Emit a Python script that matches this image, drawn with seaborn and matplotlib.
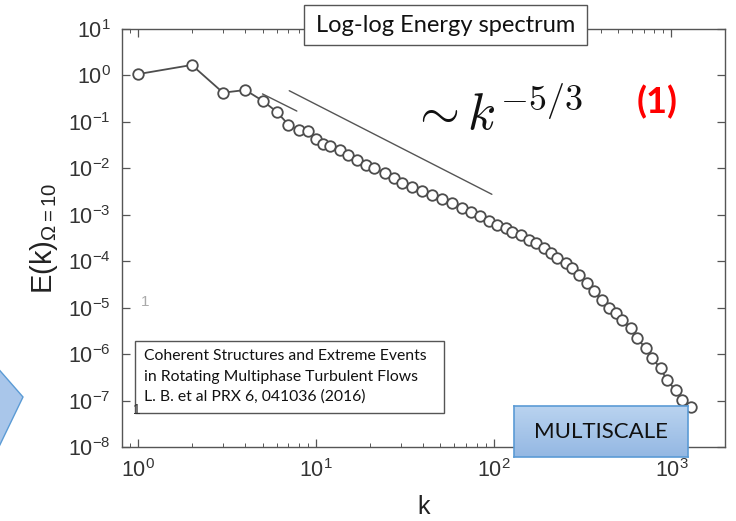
import numpy as np
import pandas as pd
import matplotlib
matplotlib.use("Agg")
import matplotlib.pyplot as plt
import seaborn as sns
from matplotlib.patches import Rectangle, Polygon

# Energy spectrum E(k) for Omega = 10
k = [1, 2, 3, 4, 5, 6, 7, 8, 9,
     10, 11, 12, 13.6, 15.1, 17.1, 19.2, 21.3, 24.3, 27.6, 30.6, 34.9,
     39.7, 45.2, 51.4, 58.4, 66.5, 74.7, 83.9, 94.2, 104.4, 117.4, 126.8,
     142.5, 158.0, 173.0, 191.9, 209.9, 226.9, 254.9, 275.3, 301.3, 334.2,
     365.7, 405.3, 443.9, 485.9, 525.3, 589.6, 637.5, 715.8, 773.4, 868.6,
     939.0, 1054, 1140, 1280]
E = [1.07, 1.68, 0.425, 0.486, 0.286, 0.166, 0.087, 0.0668, 0.0637,
     0.0418, 0.0342, 0.0303, 0.0248, 0.0194, 0.0151, 0.0118, 0.0102,
     0.00793, 0.00618, 0.00483, 0.00396, 0.00325, 0.00266, 0.00218,
     0.00179, 0.00140, 0.00115, 9.4e-4, 7.34e-4, 6.03e-4, 5.19e-4, 4.26e-4,
     3.67e-4, 2.86e-4, 2.47e-4, 1.92e-4, 1.50e-4, 1.17e-4, 9.14e-5,
     7.14e-5, 5.05e-5, 3.40e-5, 2.28e-5, 1.46e-5, 9.8e-6, 7.67e-6,
     5.42e-6, 3.65e-6, 2.22e-6, 1.35e-6, 8.2e-7, 5.0e-7, 2.77e-7,
     1.69e-7, 1.03e-7, 7.2e-8]

# Kolmogorov k^(-5/3) guide segments
guide_short_k = [5.0, 7.8]
guide_short_E = [0.40, 0.171]
guide_long_k = [7.07, 97.6]
guide_long_E = [0.469, 2.76e-3]

xticks = [1, 10, 100, 1000]
yticks = [1e-8, 1e-7, 1e-6, 1e-5, 1e-4, 1e-3, 1e-2, 1e-1, 1e0, 1e1]

citation = ["Coherent Structures and Extreme Events",
            "in Rotating Multiphase Turbulent Flows",
            "L. B. et al PRX 6, 041036 (2016)"]

sns.set_theme(style="ticks")
plt.rcParams["font.family"] = ["Liberation Sans", "DejaVu Sans"]
plt.rcParams["mathtext.fontset"] = "custom"
plt.rcParams["mathtext.rm"] = "Liberation Sans"
plt.rcParams["mathtext.it"] = "Liberation Sans:italic"
plt.rcParams["mathtext.bf"] = "Liberation Sans:bold"

W, H = 736, 521
fig = plt.figure(figsize=(W / 100, H / 100), dpi=100)
fig.patch.set_facecolor("white")


def fx(px):
    return px / W


def fy(py):
    return 1 - py / H


ax = fig.add_axes([fx(122), fy(447), fx(725) - fx(122), fy(29) - fy(447)])

df = pd.DataFrame({"k": k, "E": E})
line_col = "#4d4d4d"
sns.lineplot(data=df, x="k", y="E", ax=ax, color=line_col, lw=1.3,
             marker="o", markersize=7.6, markerfacecolor="white",
             markeredgecolor=line_col, markeredgewidth=1.3, sort=True)
ax.plot(guide_short_k, guide_short_E, color="#555555", lw=1.0)
ax.plot(guide_long_k, guide_long_E, color="#555555", lw=1.0)

ax.set_xscale("log")
ax.set_yscale("log")
ax.set_xlim(0.81, 2000)
ax.set_ylim(1e-8, 1e1)
ax.set_xticks(xticks)
ax.set_yticks(yticks)
ax.tick_params(which="both", direction="in", top=True, right=True,
               colors="#555555", labelcolor="#333333", labelsize=15.5)
ax.tick_params(which="major", length=6, width=0.9)
ax.tick_params(which="minor", length=3, width=0.7)
ax.tick_params(axis="x", which="major", pad=9)
ax.tick_params(axis="y", which="major", pad=8)
for s in ax.spines.values():
    s.set_color("#555555")
    s.set_linewidth(1.0)
ax.set_xlabel("k", fontsize=18, color="#222222", labelpad=9)
ax.set_ylabel(r"E(k)$_{\mathrm{\Omega=10}}$", fontsize=21, color="#222222",
              labelpad=6)

# -5/3 annotation and the equation tag
fig.text(fx(410), fy(130), r"$\sim k^{-5/3}$", math_fontfamily="cm",
         fontsize=37, ha="left", va="baseline", color="#111111")
fig.text(fx(657), fy(102), "(1)", family=["Lato", "DejaVu Sans"],
         fontweight="bold", fontsize=26, color="#ff0000",
         ha="center", va="center")

# title box
fig.add_artist(Rectangle((fx(304), fy(45)), fx(587) - fx(304),
                         fy(5) - fy(45), transform=fig.transFigure,
                         facecolor="white", edgecolor="#555555", lw=1.0,
                         zorder=5))
fig.text(fx(445.5), fy(25), "Log-log Energy spectrum",
         family=["Lato", "DejaVu Sans"], fontsize=17, color="#111111",
         ha="center", va="center", zorder=6)

# reference box
fig.add_artist(Rectangle((fx(135), fy(413)), fx(444) - fx(135),
                         fy(341) - fy(413), transform=fig.transFigure,
                         facecolor="white", edgecolor="#555555", lw=1.0,
                         zorder=5))
for i, line in enumerate(citation):
    fig.text(fx(144), fy(356 + 20.5 * i), line,
             family=["Lato", "DejaVu Sans"], fontsize=11.3,
             color="#111111", ha="left", va="center", zorder=6)

# stray marks from the original slide
fig.text(fx(145), fy(302), "1", fontsize=11, color="#aaaaaa",
         ha="center", va="center")
fig.text(fx(137), fy(410), "1", fontsize=10, color="#333333",
         ha="center", va="center", zorder=7)

# MULTISCALE label with gradient fill
gax = fig.add_axes([fx(514), fy(457), fx(688) - fx(514), fy(406) - fy(457)],
                   zorder=8)
grad = np.linspace(0, 1, 64).reshape(-1, 1)
top = np.array([0.73, 0.83, 0.94])
bot = np.array([0.58, 0.72, 0.89])
img = top[None, None, :] * (1 - grad[..., None]) + bot[None, None, :] * grad[..., None]
gax.imshow(img, aspect="auto", extent=[0, 1, 0, 1])
gax.set_xticks([])
gax.set_yticks([])
for s in gax.spines.values():
    s.set_color("#5b9bd5")
    s.set_linewidth(1.2)
gax.text(0.5, 0.5, "MULTISCALE", family=["Lato", "DejaVu Sans"],
         fontsize=16, color="#111111", ha="center", va="center",
         transform=gax.transAxes)

# partial shape at the left edge
fig.add_artist(Polygon([(fx(-5), fy(365)), (fx(23), fy(397)),
                        (fx(-5), fy(455))], closed=True,
                       transform=fig.transFigure, facecolor="#a9c6ea",
                       edgecolor="#5b9bd5", lw=1.0, zorder=5))

fig.savefig("out.png", dpi=100, facecolor="white")
